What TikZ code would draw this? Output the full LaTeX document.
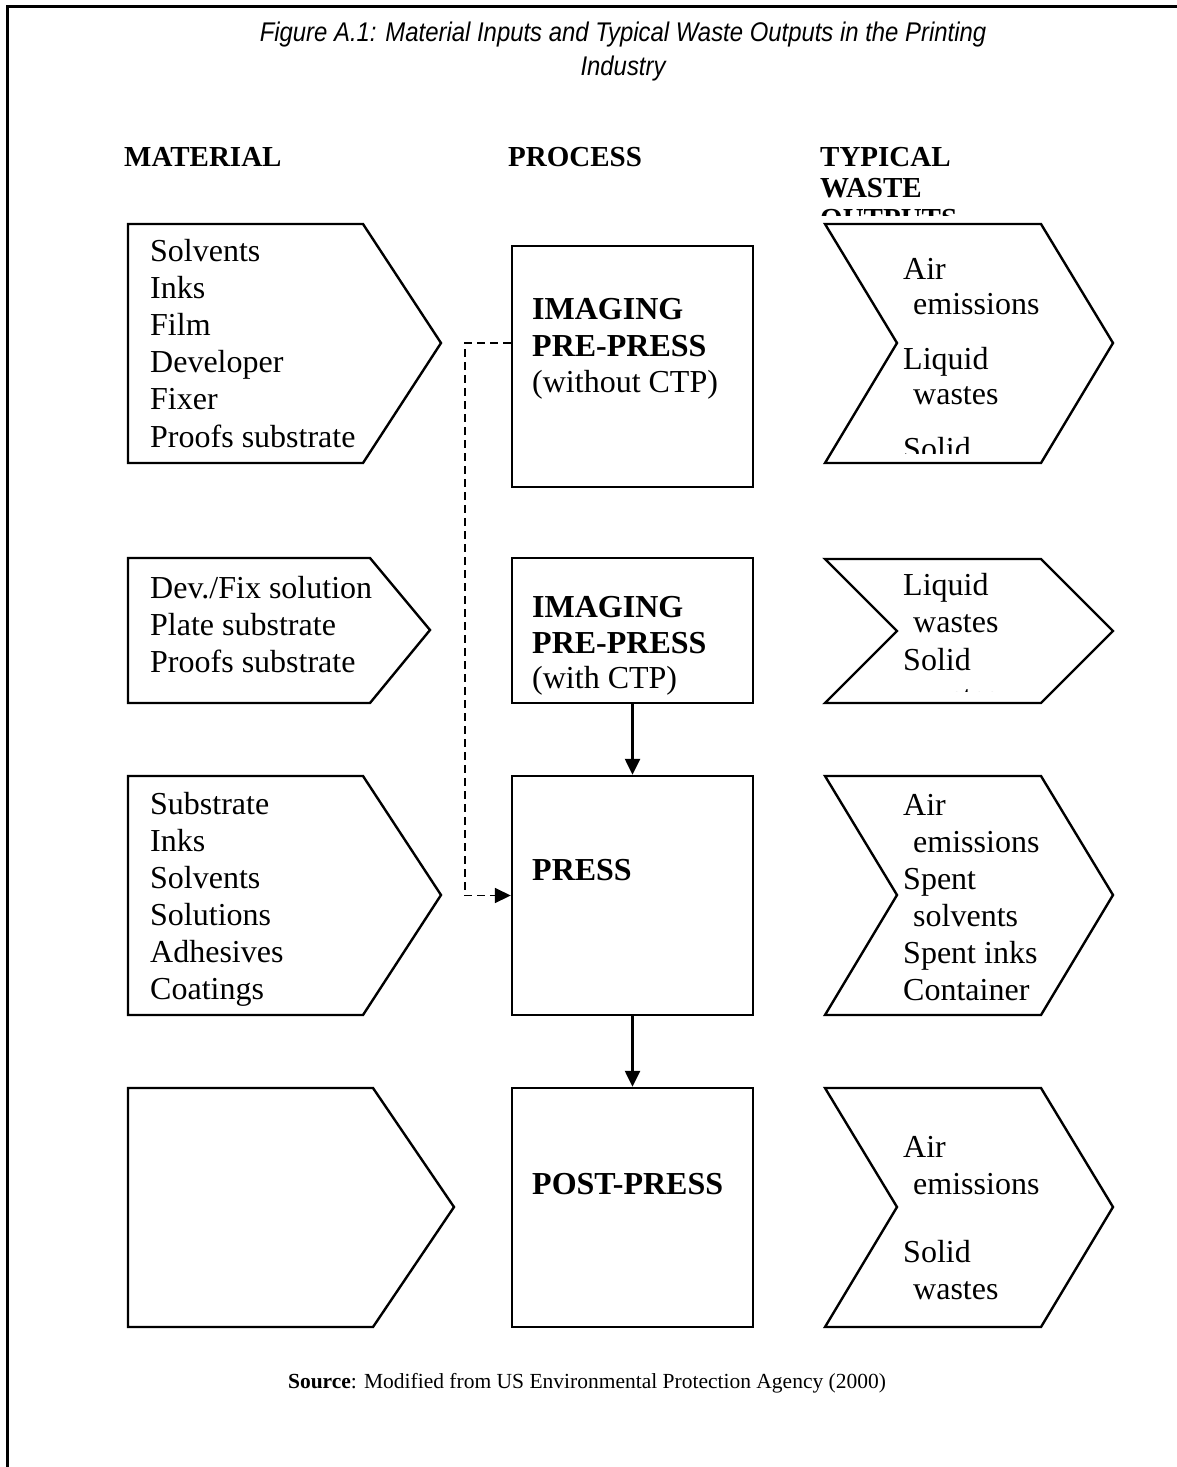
\documentclass[tikz,border=0pt]{standalone}
\usepackage{fontspec}
\setmainfont{Liberation Serif}
\newfontfamily\titlefont[FakeStretch=0.885]{Liberation Sans}
\usetikzlibrary{arrows.meta}
\begin{document}
\begin{tikzpicture}[x=1pt,y=-1pt,
  shp/.style={draw, line width=2.4pt, line join=miter},
  procbox/.style={draw, line width=2.4pt, minimum width=241pt, inner sep=0pt},
  txt/.style={anchor=base west, inner sep=0pt, font=\fontsize{32}{37}\selectfont},
  btxt/.style={anchor=base west, inner sep=0pt, font=\fontsize{32}{37}\selectfont\bfseries},
  hdr/.style={anchor=base west, inner sep=0pt, font=\fontsize{29}{31}\selectfont\bfseries},
  arr/.style={line width=2.4pt, -{Triangle[length=16pt,width=15pt]}},
  dsh/.style={line width=1.7pt, dash pattern=on 8pt off 5pt, -{Triangle[length=16pt,width=15pt]}}
]
\useasboundingbox (0,0) rectangle (1177,1467);
% frame
\draw[line width=3pt] (1177,6) -- (7,6) -- (7,1467);
% title
\node[inner sep=0pt, anchor=base, font=\titlefont\itshape\fontsize{27}{30}\selectfont] (t1) at (623,41) {Figure A.1: Material Inputs and Typical Waste Outputs in the Printing};
\node[inner sep=0pt, anchor=base, font=\titlefont\itshape\fontsize{27}{30}\selectfont] (t2) at (623,75) {Industry};
% headers
\node[hdr] (hm) at (124,166) {MATERIAL};
\node[hdr] (hp) at (508,166) {PROCESS};
\node[hdr] (hw1) at (820,166) {TYPICAL};
\node[hdr] (hw2) at (820,197) {WASTE};
\begin{scope}
\clip (800,200) rectangle (1100,215);
\node[hdr] (hw3) at (820,228) {OUTPUTS};
\end{scope}
% material pentagons
\draw[shp] (128,224) -- (363,224) -- (441,343) -- (363,463) -- (128,463) -- cycle;
\draw[shp] (128,558) -- (370,558) -- (430,630) -- (370,703) -- (128,703) -- cycle;
\draw[shp] (128,776) -- (363,776) -- (441,895) -- (363,1015) -- (128,1015) -- cycle;
\draw[shp] (128,1088) -- (373,1088) -- (454,1207) -- (373,1327) -- (128,1327) -- cycle;
% material texts
\node[txt] (m11) at (150,261) {Solvents};
\node[txt] (m12) at (150,298.2) {Inks};
\node[txt] (m13) at (150,335.4) {Film};
\node[txt] (m14) at (150,372.6) {Developer};
\node[txt] (m15) at (150,409.8) {Fixer};
\node[txt] (m16) at (150,447) {Proofs substrate};
\node[txt] (m21) at (150,598) {Dev./Fix solution};
\node[txt] (m22) at (150,635) {Plate substrate};
\node[txt] (m23) at (150,672) {Proofs substrate};
\node[txt] (m31) at (150,814) {Substrate};
\node[txt] (m32) at (150,851) {Inks};
\node[txt] (m33) at (150,888) {Solvents};
\node[txt] (m34) at (150,925) {Solutions};
\node[txt] (m35) at (150,962) {Adhesives};
\node[txt] (m36) at (150,999) {Coatings};
% process boxes
\node[procbox, minimum height=241pt] (b1) at (632.5,366.5) {};
\node[procbox, minimum height=145pt] (b2) at (632.5,630.5) {};
\node[procbox, minimum height=239pt] (b3) at (632.5,895.5) {};
\node[procbox, minimum height=239pt] (b4) at (632.5,1207.5) {};
\node[btxt] (p11) at (532,319) {IMAGING};
\node[btxt] (p12) at (532,356) {PRE-PRESS};
\node[txt] (p13) at (532,392) {(without CTP)};
\node[btxt] (p21) at (532,617) {IMAGING};
\node[btxt] (p22) at (532,653) {PRE-PRESS};
\node[txt] (p23) at (532,688) {(with CTP)};
\node[btxt] (p31) at (532,880) {PRESS};
\node[btxt] (p41) at (532,1194) {POST-PRESS};
% connectors
\draw[arr] (b2.south) -- (b3.north);
\draw[arr] (b3.south) -- (b4.north);
\draw[dsh] ([yshift=23.5pt]b1.west) -- ++(-46,0) |- (b3.west);
% waste chevrons
\draw[shp] (825,224) -- (1041,224) -- (1113,343) -- (1041,463) -- (825,463) -- (897,343) -- cycle;
\draw[shp] (825,559) -- (1041,559) -- (1113,631) -- (1041,703) -- (825,703) -- (897,631) -- cycle;
\draw[shp] (825,776) -- (1041,776) -- (1113,895) -- (1041,1015) -- (825,1015) -- (897,895) -- cycle;
\draw[shp] (825,1088) -- (1041,1088) -- (1113,1207) -- (1041,1327) -- (825,1327) -- (897,1207) -- cycle;
% waste texts
\node[txt] (w11) at (903,279) {Air};
\node[txt] (w12) at (913,314) {emissions};
\node[txt] (w13) at (903,369) {Liquid};
\node[txt] (w14) at (913,404) {wastes};
\begin{scope}
\clip (890,420) rectangle (1060,453);
\node[txt] (w15) at (903,459) {Solid};
\end{scope}
\node[txt] (w21) at (903,595) {Liquid};
\node[txt] (w22) at (913,632) {wastes};
\node[txt] (w23) at (903,670) {Solid};
\begin{scope}
\clip (890,680) rectangle (1060,691);
\node[txt] (w24) at (913,707) {wastes};
\end{scope}
\node[txt] (w31) at (903,815) {Air};
\node[txt] (w32) at (913,852) {emissions};
\node[txt] (w33) at (903,889) {Spent};
\node[txt] (w34) at (913,926) {solvents};
\node[txt] (w35) at (903,963) {Spent inks};
\node[txt] (w36) at (903,1000) {Container};
\node[txt] (w41) at (903,1157) {Air};
\node[txt] (w42) at (913,1194) {emissions};
\node[txt] (w43) at (903,1262) {Solid};
\node[txt] (w44) at (913,1299) {wastes};
% source
\node[inner sep=0pt, anchor=base, font=\fontsize{21.5}{24}\selectfont] (src) at (587,1388) {\textbf{Source}: Modified from US Environmental Protection Agency (2000)};
\end{tikzpicture}
\end{document}
